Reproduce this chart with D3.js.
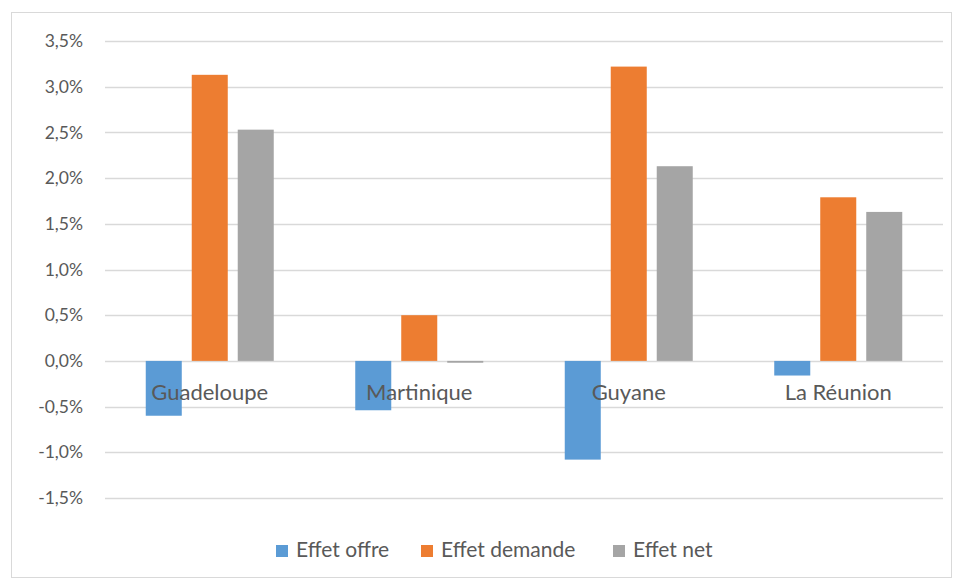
<!DOCTYPE html>
<html>
<head>
<meta charset="utf-8">
<script src="https://cdn.jsdelivr.net/npm/d3@7"></script>
<style>
  body { margin: 0; background: #fff; }
  text { font-family: Lato, "Open Sans", sans-serif; fill: #595959; }
</style>
</head>
<body>
<svg id="chart" width="958" height="580"></svg>
<script>
var categories = ["Guadeloupe", "Martinique", "Guyane", "La Réunion"];
var seriesNames = ["Effet offre", "Effet demande", "Effet net"];
var seriesColors = ["#5B9BD5", "#ED7D31", "#A5A5A5"];
var effetOffre = [-0.60, -0.54, -1.08, -0.16];
var effetDemande = [3.13, 0.50, 3.22, 1.79];
var effetNet = [2.53, -0.02, 2.13, 1.63];
var yTicks = [-1.5, -1.0, -0.5, 0, 0.5, 1.0, 1.5, 2.0, 2.5, 3.0, 3.5];

var series = [effetOffre, effetDemande, effetNet];

var svg = d3.select("svg#chart");

// chart area border
svg.append("rect")
   .attr("x", 11.5).attr("y", 12.5)
   .attr("width", 940).attr("height", 565)
   .attr("fill", "none")
   .attr("stroke", "#D9D9D9");

var xScale = d3.scaleBand().domain(categories).range([105, 943]);
var inner = d3.scaleBand().domain([0, 1, 2]).range([0, xScale.bandwidth()]).paddingInner(0.217).paddingOuter(0.886);
var yScale = d3.scaleLinear().domain([-1.5, 3.5]).range([498, 41]);

var fmt = function(v){ return v.toFixed(1).replace(".", ",") + "%"; };

// gridlines + tick labels
for(var i=0; i<yTicks.length; i++){
  svg.append("line")
     .attr("x1", 105).attr("x2", 943)
     .attr("y1", Math.round(yScale(yTicks[i])) + 0.5)
     .attr("y2", Math.round(yScale(yTicks[i])) + 0.5)
     .attr("stroke", "#D9D9D9")
     .attr("stroke-width", 1.5);
  svg.append("text")
     .attr("x", 83)
     .attr("y", yScale(yTicks[i]))
     .attr("dy", "0.35em")
     .attr("text-anchor", "end")
     .style("font-size", "17.5px")
     .text(fmt(yTicks[i]));
}

// bars
for(var s=0; s<series.length; s++){
  for(var c=0; c<categories.length; c++){
    var v = series[s][c];
    svg.append("rect")
       .attr("x", xScale(categories[c]) + inner(s))
       .attr("width", inner.bandwidth())
       .attr("y", yScale(Math.max(0, v)))
       .attr("height", Math.abs(yScale(v) - yScale(0)))
       .attr("fill", seriesColors[s]);
  }
}

// category labels
for(var c=0; c<categories.length; c++){
  svg.append("text")
     .attr("x", xScale(categories[c]) + xScale.bandwidth()/2)
     .attr("y", 392)
     .attr("dy", "0.35em")
     .attr("text-anchor", "middle")
     .style("font-size", "22px")
     .text(categories[c]);
}

// legend
var legendX = [276, 421, 613];
for(var s=0; s<seriesNames.length; s++){
  svg.append("rect")
     .attr("x", legendX[s]).attr("y", 545)
     .attr("width", 12).attr("height", 12)
     .attr("fill", seriesColors[s]);
  svg.append("text")
     .attr("x", legendX[s] + 20)
     .attr("y", 550)
     .attr("dy", "0.35em")
     .style("font-size", "21px")
     .text(seriesNames[s]);
}
</script>
</body>
</html>
